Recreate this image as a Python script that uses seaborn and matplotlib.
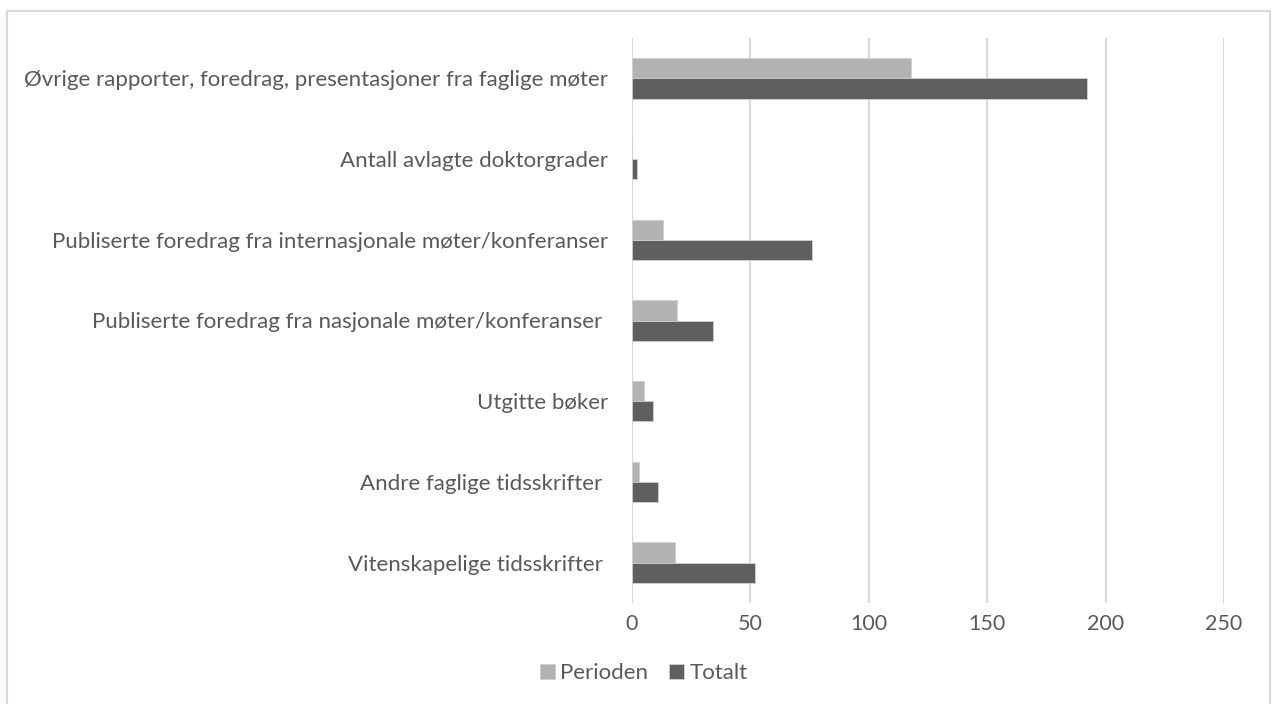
import matplotlib
matplotlib.use("Agg")
import matplotlib.pyplot as plt
import pandas as pd
import seaborn as sns
from matplotlib.patches import Rectangle

# --- data ---------------------------------------------------------------------
categories = [
    "Øvrige rapporter, foredrag, presentasjoner fra faglige møter",
    "Antall avlagte doktorgrader",
    "Publiserte foredrag fra internasjonale møter/konferanser",
    "Publiserte foredrag fra nasjonale møter/konferanser ",
    "Utgitte bøker",
    "Andre faglige tidsskrifter ",
    "Vitenskapelige tidsskrifter ",
]
perioden = [118, 0, 13, 19, 5, 3, 18]
totalt = [192, 2, 76, 34, 9, 11, 52]
series_names = ["Perioden", "Totalt"]
x_ticks = [0, 50, 100, 150, 200, 250]

df = pd.DataFrame({"kategori": categories, "Perioden": perioden, "Totalt": totalt})
long_df = df.melt(id_vars="kategori", var_name="serie", value_name="antall")

# --- plot ---------------------------------------------------------------------
sns.set_theme(style="white")
plt.rcParams["font.family"] = ["Lato", "DejaVu Sans"]
text_col = "#595959"
fs = 16

fig = plt.figure(figsize=(12.72, 7.04), dpi=100)
ax = fig.add_axes([632 / 1272, 1 - 603 / 704, (1224 - 632) / 1272, (603 - 38) / 704])

sns.barplot(data=long_df, y="kategori", x="antall", hue="serie",
            hue_order=series_names, order=categories,
            palette=["#b2b2b2", "#5f5f5f"], width=0.5, orient="h",
            edgecolor="#d0d0d0", linewidth=0.6, ax=ax, zorder=3)

ax.set_xlim(0, 250)
ax.set_xticks(x_ticks)
ax.xaxis.grid(True, color="#d9d9d9", linewidth=1.5, zorder=0)
ax.yaxis.grid(False)
for s in ax.spines.values():
    s.set_visible(False)
ax.axvline(0, color="#d9d9d9", linewidth=1.5, zorder=1)
ax.set_xlabel("")
ax.set_ylabel("")
ax.tick_params(axis="y", length=0, pad=17, labelsize=fs, labelcolor=text_col)
ax.tick_params(axis="x", length=0, pad=8, labelsize=fs - 0.5, labelcolor=text_col)

handles, labels = ax.get_legend_handles_labels()
ax.legend(handles, labels, loc="center", bbox_to_anchor=(644 / 1272, 1 - 673 / 704),
          bbox_transform=fig.transFigure, ncol=2, frameon=False,
          fontsize=fs, labelcolor=text_col, handlelength=0.65, handleheight=0.65,
          handletextpad=0.25, columnspacing=0.95)

# chart border
fig.patches.append(Rectangle((7 / 1272, -0.05), (1270 - 7) / 1272, 1.05 - 11 / 704,
                             transform=fig.transFigure, fill=False,
                             edgecolor="#d9d9d9", linewidth=1.5))

fig.savefig("out.png", dpi=100, facecolor="white")
